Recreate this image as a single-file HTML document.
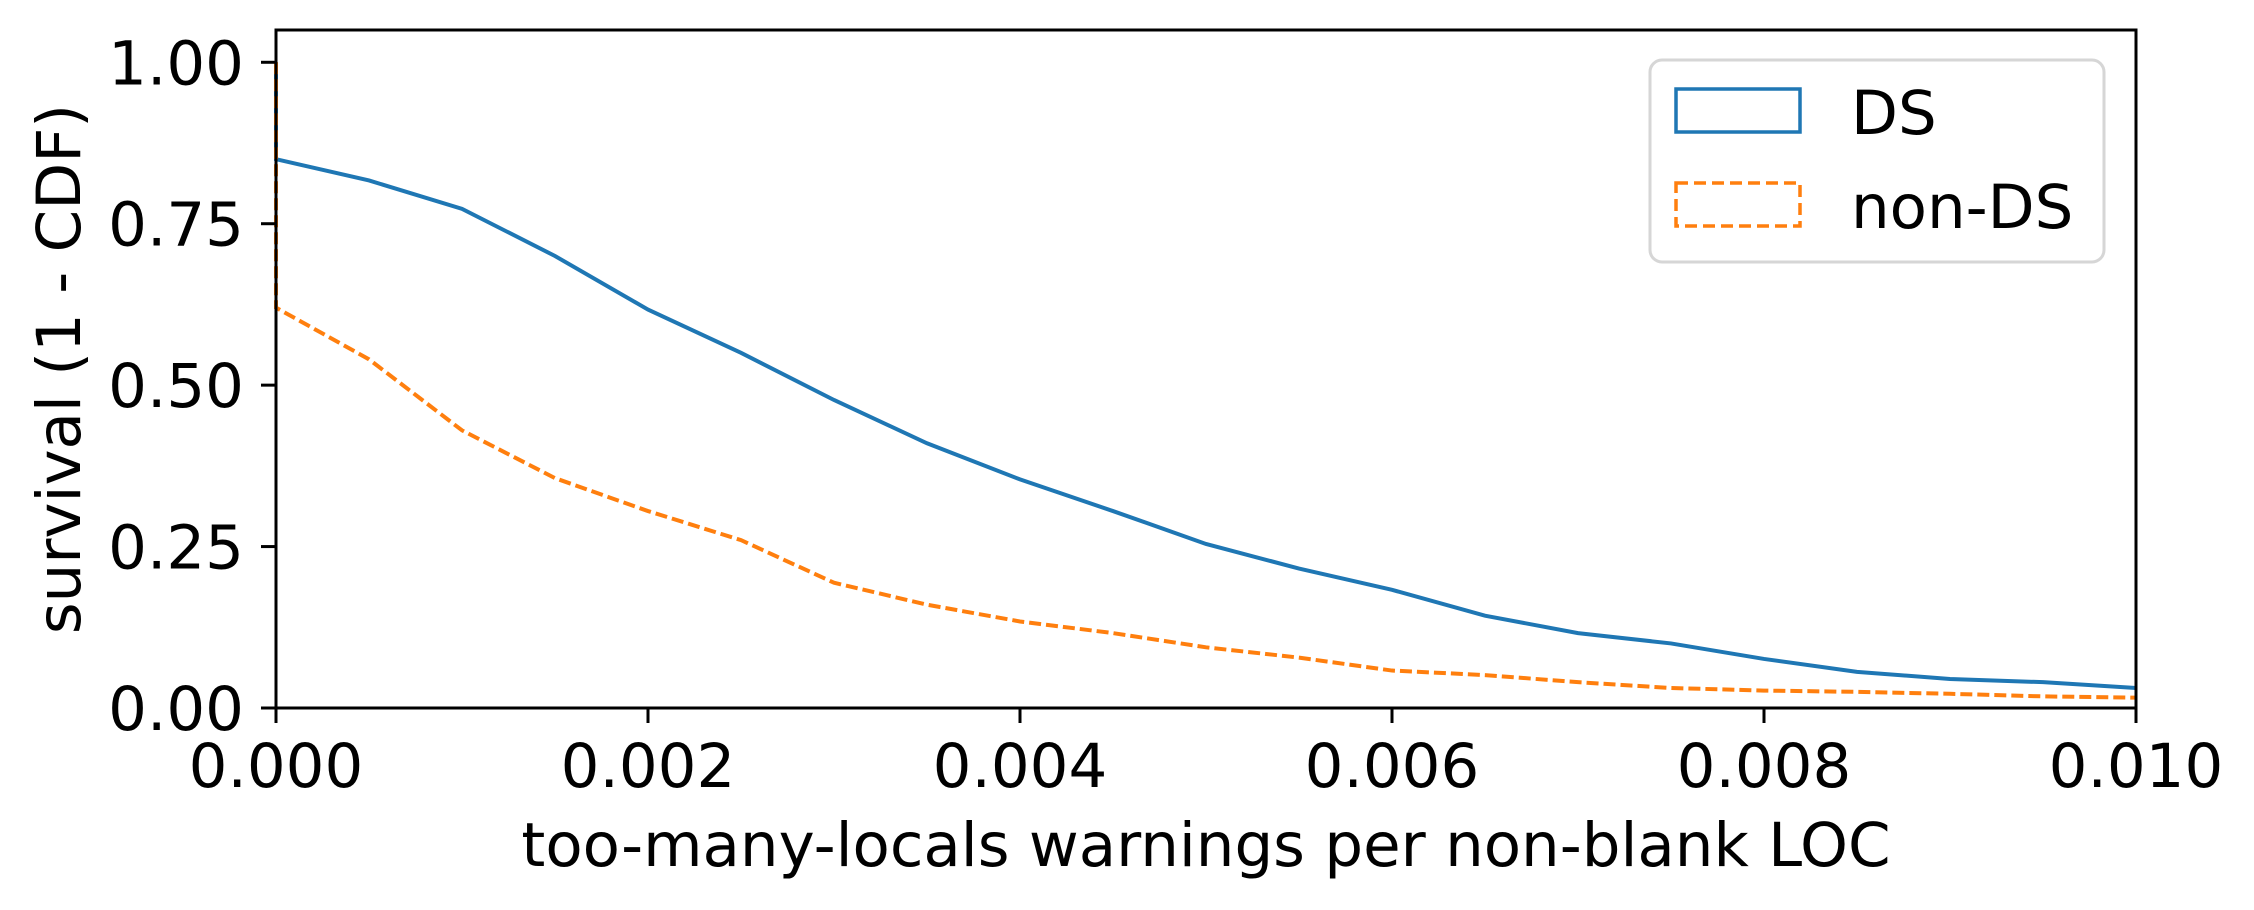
<!DOCTYPE html>
<html><head><meta charset="utf-8"><style>
html,body{margin:0;padding:0;background:#fff;}
svg text{font-family:"DejaVu Sans","Liberation Sans",sans-serif;fill:#000;}
</style></head><body>
<svg id="chart" width="2254" height="905" viewBox="0 0 2254 905" xmlns="http://www.w3.org/2000/svg">
<g id="plot"></g>
<g id="axes"></g>
<g id="legend">
  <rect x="1650" y="60" width="454" height="202" rx="12" fill="#fff" fill-opacity="0.8" stroke="#d6d6d6" stroke-width="3"/>
  <rect x="1676" y="89" width="124" height="43" fill="none" stroke="#1f77b4" stroke-width="3.5"/>
  <text x="1851" y="134" font-size="61">DS</text>
  <rect x="1676" y="183" width="124" height="43" fill="none" stroke="#ff7f0e" stroke-width="3.5" stroke-dasharray="12,6"/>
  <text x="1851" y="228" font-size="61">non-DS</text>
</g>
<text x="1206" y="866" font-size="61" text-anchor="middle">too-many-locals warnings per non-blank LOC</text>
<text x="0" y="0" font-size="61" text-anchor="middle" transform="translate(80,369) rotate(-90)">survival (1 - CDF)</text>
</svg>
<script>
const xValues = [0,0.0005,0.001,0.0015,0.002,0.0025,0.003,0.0035,0.004,0.0045,0.005,0.0055,0.006,0.0065,0.007,0.0075,0.008,0.0085,0.009,0.0095,0.01];
const dsValues = [0.85,0.817,0.773,0.70,0.617,0.55,0.477,0.41,0.354,0.305,0.254,0.216,0.183,0.143,0.116,0.10,0.076,0.056,0.045,0.04,0.031];
const nonDsValues = [0.62,0.54,0.43,0.356,0.305,0.26,0.194,0.16,0.134,0.116,0.094,0.078,0.058,0.051,0.04,0.031,0.027,0.025,0.022,0.018,0.016];
const xTicks = [0,0.002,0.004,0.006,0.008,0.010];
const xTickLabels = ["0.000","0.002","0.004","0.006","0.008","0.010"];
const yTicks = [0,0.25,0.5,0.75,1.0];
const yTickLabels = ["0.00","0.25","0.50","0.75","1.00"];

const L=276,R=2136,T=30,B=708;
const xMin=0,xMax=0.01,yMin=0,yMax=1.05;
const xs=v=>L+(v-xMin)/(xMax-xMin)*(R-L);
const ys=v=>B-(v-yMin)/(yMax-yMin)*(B-T);
const NS="http://www.w3.org/2000/svg";
const plot=document.getElementById('plot'), axes=document.getElementById('axes');
function mk(tag,parent){const e=document.createElementNS(NS,tag);parent.appendChild(e);return e;}

function series(vals,color,dash,name){
  let d=`M${xs(xValues[0])},${ys(1)} L${xs(xValues[0])},${ys(vals[0])}`;
  for(let i=1;i<vals.length;i++) d+=` L${xs(xValues[i])},${ys(vals[i])}`;
  const p=mk('path',plot);
  p.setAttribute('d',d);p.setAttribute('fill','none');p.setAttribute('stroke',color);
  p.setAttribute('stroke-width','4');
  if(dash)p.setAttribute('stroke-dasharray',dash);
  
  
}
series(dsValues,'#1f77b4',null,'ds-line');
series(nonDsValues,'#ff7f0e','12,5','non-ds-line');

const frame=mk('rect',axes);
frame.setAttribute('x',L);frame.setAttribute('y',T);frame.setAttribute('width',R-L);frame.setAttribute('height',B-T);
frame.setAttribute('fill','none');frame.setAttribute('stroke','#000');frame.setAttribute('stroke-width','3');



xTicks.forEach((v,i)=>{
  const l=mk('line',axes);
  l.setAttribute('x1',xs(v));l.setAttribute('x2',xs(v));l.setAttribute('y1',B);l.setAttribute('y2',B+15);
  l.setAttribute('stroke','#000');l.setAttribute('stroke-width','3');
  
  
  const t=mk('text',axes);
  t.setAttribute('x',xs(v));t.setAttribute('y',787);t.setAttribute('font-size','61');t.setAttribute('text-anchor','middle');
  t.textContent=xTickLabels[i];
  
  
});
yTicks.forEach((v,i)=>{
  const l=mk('line',axes);
  l.setAttribute('x1',L-15);l.setAttribute('x2',L);l.setAttribute('y1',ys(v));l.setAttribute('y2',ys(v));
  l.setAttribute('stroke','#000');l.setAttribute('stroke-width','3');
  
  
  const t=mk('text',axes);
  t.setAttribute('x',L-32);t.setAttribute('y',ys(v)+22);t.setAttribute('font-size','61');t.setAttribute('text-anchor','end');
  t.textContent=yTickLabels[i];
  
  
});
</script>
</body></html>
